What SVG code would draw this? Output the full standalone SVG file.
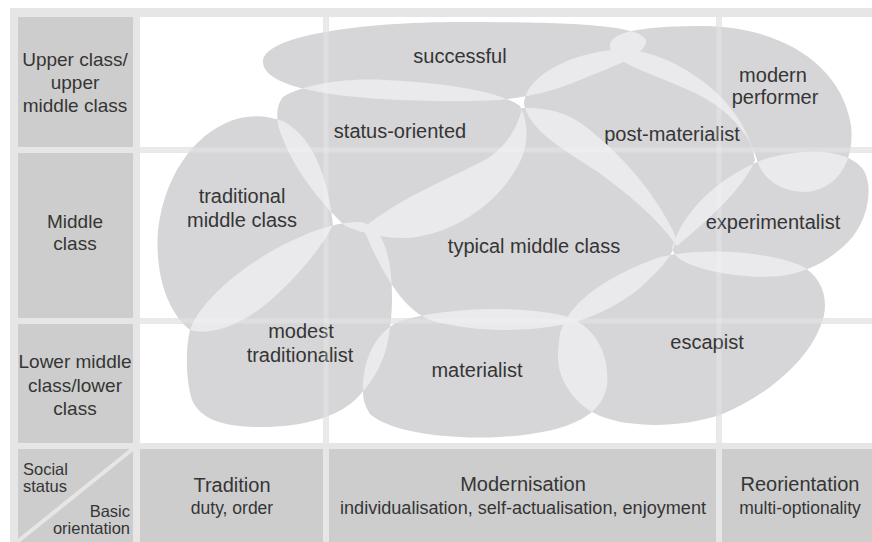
<svg xmlns="http://www.w3.org/2000/svg" xmlns:xlink="http://www.w3.org/1999/xlink" width="872" height="542" viewBox="0 0 872 542">
<style>
.frame{fill:#e6e6e6}
.hdr{fill:#cdcdcd}
.cell{fill:#ffffff}
.blob{fill:#d6d6d8}
.ov{fill:#eaeaed}
.gl{stroke:#f6f6f6;stroke-opacity:0.25;stroke-width:5;fill:none}
text{font-family:"Liberation Sans",Arial,sans-serif;fill:#353535}
.h{font-size:19px;text-anchor:middle}
.s{font-size:16.5px}
.t{font-size:20px;text-anchor:middle}
.sub{font-size:17.5px;text-anchor:middle}
.lb{font-size:20px;text-anchor:middle}
</style>
<defs>
<path id="p-succ" d="M263,62 C262,36 360,22 460,22 C560,22 640,24 646,40 C649,54 610,68 580,80 C550,92 520,101 470,101 C360,102 264,92 263,62 Z"/>
<path id="p-stat" d="M283,97 C305,84 345,78 385,80 C450,83 500,92 520,106 C530,125 528,150 517,167 C500,200 460,230 417,237 C395,240 370,236 345,226 C318,200 290,165 278,125 C276,112 278,103 283,97 Z"/>
<path id="p-post" d="M524,104 C525,78 565,55 612,50 C650,46 695,70 724,100 C740,118 752,140 755,160 C744,188 708,220 677,246 C655,215 625,192 598,172 C565,150 530,132 524,104 Z"/>
<path id="p-mp" d="M610,45 C612,30 650,26 705,26 C775,27 840,60 851,125 C855,160 838,190 805,192 C780,192 762,178 757,160 C750,135 730,110 695,93 C650,72 608,62 610,45 Z"/>
<path id="p-tmc" d="M333,225 C328,180 315,140 285,122 C270,116 255,115 240,118 C200,128 165,170 158,230 C155,270 165,310 190,330 C210,336 240,325 265,305 C295,280 320,250 333,225 Z"/>
<path id="p-typ" d="M363,228 C400,198 450,178 485,160 C505,148 518,128 522,108 C546,107 566,112 582,124 C621,153 656,194 675,235 C678,250 665,265 640,288 C615,308 585,322 555,326 C520,332 470,332 430,320 C405,310 385,280 363,228 Z"/>
<path id="p-exp" d="M672,248 C682,212 718,178 762,160 C800,148 845,148 862,168 C875,185 868,222 848,242 C828,262 805,273 780,276 C745,279 705,272 685,262 C677,258 673,253 672,248 Z"/>
<path id="p-mt" d="M190,330 C200,300 250,258 300,237 C320,228 340,222 360,222 C378,224 388,245 391,275 C393,300 392,320 388,340 C384,365 370,385 355,400 C335,418 300,428 255,427 C220,426 200,418 192,400 C186,380 185,350 190,330 Z"/>
<path id="p-mat" d="M363,392 C362,362 374,334 398,322 C432,310 510,303 565,316 C595,325 610,355 607,385 C603,415 570,433 500,437 C440,440 387,430 370,414 C365,406 363,399 363,392 Z"/>
<path id="p-esc" d="M560,333 C570,300 610,275 660,257 C700,248 760,250 800,265 C820,275 828,295 824,315 C815,355 770,395 720,415 C680,428 630,428 600,416 C575,405 557,380 558,355 C558,348 559,340 560,333 Z"/>
<clipPath id="c-succ"><use xlink:href="#p-succ"/></clipPath>
<clipPath id="c-stat"><use xlink:href="#p-stat"/></clipPath>
<clipPath id="c-post"><use xlink:href="#p-post"/></clipPath>
<clipPath id="c-mp"><use xlink:href="#p-mp"/></clipPath>
<clipPath id="c-tmc"><use xlink:href="#p-tmc"/></clipPath>
<clipPath id="c-typ"><use xlink:href="#p-typ"/></clipPath>
<clipPath id="c-exp"><use xlink:href="#p-exp"/></clipPath>
<clipPath id="c-mt"><use xlink:href="#p-mt"/></clipPath>
<clipPath id="c-mat"><use xlink:href="#p-mat"/></clipPath>
</defs>

<g id="grid">
<rect class="frame" x="10" y="8" width="862" height="534"/>
<rect class="hdr" x="18" y="17" width="115" height="130"/>
<rect class="hdr" x="18" y="153" width="115" height="165"/>
<rect class="hdr" x="18" y="324" width="115" height="119"/>
<rect class="hdr" x="18" y="449" width="115" height="93"/>
<rect class="cell" x="140" y="17" width="183" height="130"/>
<rect class="cell" x="329" y="17" width="387" height="130"/>
<rect class="cell" x="722" y="17" width="150" height="130"/>
<rect class="cell" x="140" y="153" width="183" height="165"/>
<rect class="cell" x="329" y="153" width="387" height="165"/>
<rect class="cell" x="722" y="153" width="150" height="165"/>
<rect class="cell" x="140" y="324" width="183" height="119"/>
<rect class="cell" x="329" y="324" width="387" height="119"/>
<rect class="cell" x="722" y="324" width="150" height="119"/>
<rect class="hdr" x="140" y="449" width="183" height="93"/>
<rect class="hdr" x="329" y="449" width="387" height="93"/>
<rect class="hdr" x="722" y="449" width="150" height="93"/>
<line x1="17" y1="542" x2="134" y2="448" stroke="#e6e6e6" stroke-width="4"/>
</g>

<g id="row-labels">
<text class="h" x="75" y="66">Upper class/</text>
<text class="h" x="75" y="89">upper</text>
<text class="h" x="75" y="112">middle class</text>
<text class="h" x="75" y="228">Middle</text>
<text class="h" x="75" y="250">class</text>
<text class="h" x="75" y="368">Lower middle</text>
<text class="h" x="75" y="392">class/lower</text>
<text class="h" x="75" y="415">class</text>
<text class="s" x="23" y="475">Social</text>
<text class="s" x="23" y="492">status</text>
<text class="s" x="130" y="517" text-anchor="end">Basic</text>
<text class="s" x="130" y="534" text-anchor="end">orientation</text>
</g>

<g id="col-labels">
<text class="t" x="232" y="492">Tradition</text>
<text class="sub" x="232" y="514">duty, order</text>
<text class="t" x="523" y="491">Modernisation</text>
<text class="sub" x="523" y="514" textLength="366" lengthAdjust="spacingAndGlyphs">individualisation, self-actualisation, enjoyment</text>
<text class="t" x="800" y="491">Reorientation</text>
<text class="sub" x="800" y="514">multi-optionality</text>
</g>

<g id="node-successful"><use class="blob" xlink:href="#p-succ"/><text class="lb" x="460" y="63">successful</text></g>
<g id="node-status-oriented"><use class="blob" xlink:href="#p-stat"/><text class="lb" x="400" y="138">status-oriented</text></g>
<g id="node-post-materialist"><use class="blob" xlink:href="#p-post"/><text class="lb" x="672" y="141">post-materialist</text></g>
<g id="node-modern-performer"><use class="blob" xlink:href="#p-mp"/><text class="lb" x="773" y="82">modern</text><text class="lb" x="775" y="104">performer</text></g>
<g id="node-traditional-middle-class"><use class="blob" xlink:href="#p-tmc"/><text class="lb" x="242" y="203">traditional</text><text class="lb" x="242" y="227">middle class</text></g>
<g id="node-typical-middle-class"><use class="blob" xlink:href="#p-typ"/><text class="lb" x="534" y="253">typical middle class</text></g>
<g id="node-experimentalist"><use class="blob" xlink:href="#p-exp"/><text class="lb" x="773" y="229">experimentalist</text></g>
<g id="node-modest-traditionalist"><use class="blob" xlink:href="#p-mt"/><text class="lb" x="301" y="338">modest</text><text class="lb" x="300" y="362">traditionalist</text></g>
<g id="node-materialist"><use class="blob" xlink:href="#p-mat"/><text class="lb" x="477" y="377">materialist</text></g>
<g id="node-escapist"><use class="blob" xlink:href="#p-esc"/><text class="lb" x="707" y="349">escapist</text></g>

<g id="overlaps">
<g clip-path="url(#c-succ)"><use class="ov" xlink:href="#p-stat"/><use class="ov" xlink:href="#p-post"/><use class="ov" xlink:href="#p-mp"/></g>
<g clip-path="url(#c-stat)"><use class="ov" xlink:href="#p-tmc"/><use class="ov" xlink:href="#p-typ"/><use class="ov" xlink:href="#p-mt"/><use class="ov" xlink:href="#p-post"/></g>
<g clip-path="url(#c-post)"><use class="ov" xlink:href="#p-mp"/><use class="ov" xlink:href="#p-typ"/><use class="ov" xlink:href="#p-exp"/></g>
<g clip-path="url(#c-mp)"><use class="ov" xlink:href="#p-exp"/></g>
<g clip-path="url(#c-tmc)"><use class="ov" xlink:href="#p-mt"/><use class="ov" xlink:href="#p-typ"/></g>
<g clip-path="url(#c-typ)"><use class="ov" xlink:href="#p-exp"/><use class="ov" xlink:href="#p-mt"/><use class="ov" xlink:href="#p-mat"/><use class="ov" xlink:href="#p-esc"/></g>
<g clip-path="url(#c-exp)"><use class="ov" xlink:href="#p-esc"/></g>
<g clip-path="url(#c-mt)"><use class="ov" xlink:href="#p-mat"/></g>
<g clip-path="url(#c-mat)"><use class="ov" xlink:href="#p-esc"/></g>
</g>

<g id="grid-overlay" class="gl">
<line x1="326" y1="17" x2="326" y2="443"/>
<line x1="719" y1="17" x2="719" y2="443"/>
<line x1="140" y1="150" x2="872" y2="150"/>
<line x1="140" y1="321" x2="872" y2="321"/>
</g>
</svg>
